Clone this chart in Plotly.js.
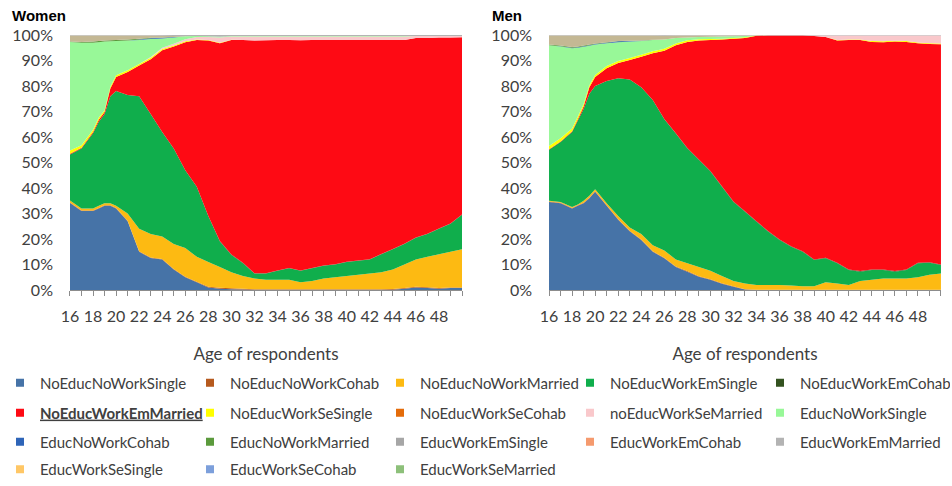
<!DOCTYPE html>
<html>
<head>
<meta charset="utf-8">
<script src="https://cdn.plot.ly/plotly-3.0.1.min.js"></script>
<style>html,body{margin:0;padding:0;background:#fff}#chart{width:952px;height:486px}</style>
</head>
<body>
<div id="chart"></div>
<script>
// Ages (x values) and x-axis tick labels
const ages = [16,17,18,18.5,19,19.5,20,21,22,23,24,25,26,27,28,29,30,31,32,33,34,35,36,37,38,39,40,41,42,43,44,45,46,47,48,49,50];
const ageTicks = [16,18,20,22,24,26,28,30,32,34,36,38,40,42,44,46,48];

// Series names (legend order = stacking order, bottom to top)
const seriesNames = ["NoEducNoWorkSingle","NoEducNoWorkCohab","NoEducNoWorkMarried","NoEducWorkEmSingle","NoEducWorkEmCohab",
  "NoEducWorkEmMarried","NoEducWorkSeSingle","NoEducWorkSeCohab","noEducWorkSeMarried","EducNoWorkSingle",
  "EducNoWorkCohab","EducNoWorkMarried","EducWorkEmSingle","EducWorkEmCohab","EducWorkEmMarried",
  "EducWorkSeSingle","EducWorkSeCohab","EducWorkSeMarried"];

// ---------- Women (shares, %) ----------
const w_NoEducNoWorkSingle  = [34,31,31,32,33,33,32,27,15,12.5,12,8,5,3,1,0.5,0.3,0.2,0.1,0.1,0.1,0.1,0.1,0.1,0.1,0.1,0.1,0.1,0.1,0.1,0.1,0.5,1,0.8,0.5,0.8,0.8];
const w_NoEducNoWorkCohab   = [0.2,0.2,0.2,0.2,0.2,0.2,0.2,0.2,0.2,0.2,0.2,0.2,0.2,0.2,0.3,0.4,0.4,0.3,0.2,0.2,0.2,0.2,0.2,0.2,0.2,0.2,0.2,0.2,0.2,0.2,0.3,0.3,0.3,0.3,0.3,0.2,0.2];
const w_NoEducNoWorkMarried = [0.8,0.8,0.8,0.8,0.8,0.8,0.8,2.8,8.8,9.3,8.8,9.8,11.3,9.8,9.7,8.1,6.3,5,4.2,3.7,3.7,3.7,2.7,3.2,4.2,4.7,5.2,5.7,6.2,6.7,7.6,9.2,10.7,11.9,13.2,14,15];
const w_NoEducWorkEmSingle  = [18,23.5,29.5,33,35,42,45,46.5,52,47,41,37.5,30.5,27.5,18,10,6.7,5,2,2.5,3.5,4.5,4.5,5,5,5,5.5,5.5,5.5,7,8,8,8.5,9,10,11,13.5];
const w_NoEducWorkEmCohab   = [0,0,0,0,0,0,0,0,0,0,0,0,0,0,0,0.2,0.2,0.2,0.1,0.1,0.1,0.1,0.1,0.1,0.1,0.1,0.1,0.1,0.1,0.1,0.1,0.1,0.1,0.1,0.1,0.1,0.1];
const w_NoEducWorkEmMarried = [0.3,0.3,0.5,0.8,0.8,3,5.5,9,12,21.5,32,40,50.2,57.5,68.8,77.6,84.1,87.3,91.2,91.3,90.4,89.4,90.3,89.4,88.4,87.9,86.9,86.4,85.9,83.9,81.9,79.9,78.2,76.7,74.9,72.9,69.5];
const w_NoEducWorkSeSingle  = [1.2,1,0.8,0.8,0.7,0.7,0.7,0.7,0.6,0.6,0.5,0.4,0.3,0.2,0.2,0.2,0.1,0,0,0,0,0,0,0,0,0,0,0,0,0,0,0,0,0,0,0,0];
const w_NoEducWorkSeCohab   = [0,0,0,0,0,0,0,0,0,0,0,0,0,0,0,0,0,0,0,0,0,0,0,0,0,0,0,0,0,0,0,0,0,0,0,0,0];
const w_noEducWorkSeMarried = [0,0,0,0,0,0,0,0,0,0.3,0.5,0.7,0.8,1,1.2,2,1.3,1.4,1.6,1.5,1.4,1.4,1.5,1.4,1.4,1.4,1.4,1.4,1.4,1.4,1.4,1.4,0.8,0.8,0.6,0.6,0.5];
const w_EducNoWorkSingle    = [42.5,40.2,34.2,29.6,26.9,17.8,13.4,11.6,9.4,7,3.6,2.4,1.2,0.4,0.3,0.3,0.2,0.2,0.2,0.2,0.2,0.2,0.2,0.2,0.2,0.2,0.2,0.2,0.2,0.2,0.2,0.2,0,0,0,0,0];
const w_EducNoWorkCohab     = [0,0,0,0,0,0,0,0,0.2,0.3,0.3,0.2,0,0,0,0,0,0,0,0,0,0,0,0,0,0,0,0,0,0,0,0,0,0,0,0,0];
const w_EducNoWorkMarried   = [0.2,0.3,0.4,0.4,0.4,0.4,0.4,0.4,0.3,0.2,0.1,0,0,0,0,0,0,0,0,0,0,0,0,0,0,0,0,0,0,0,0,0,0,0,0,0,0];
const w_EducWorkEmSingle    = [2.3,2.5,2.4,2.2,2,1.9,1.8,1.6,1.3,0.9,0.7,0.4,0.1,0,0,0,0,0,0,0,0,0,0,0,0,0,0,0,0,0,0,0,0,0,0,0,0];
const w_EducWorkEmCohab     = [0,0,0,0,0,0,0,0,0,0,0,0,0,0,0,0,0,0,0,0,0,0,0,0,0,0,0,0,0,0,0,0,0,0,0,0,0];
const w_EducWorkEmMarried   = [0.2,0.2,0.2,0.2,0.2,0.2,0.2,0.2,0.2,0.2,0.3,0.4,0.4,0.4,0.5,0.7,0.4,0.4,0.4,0.4,0.4,0.4,0.4,0.4,0.4,0.4,0.4,0.4,0.4,0.4,0.4,0.4,0.4,0.4,0.4,0.4,0.4];
const w_EducWorkSeSingle    = [0,0,0,0,0,0,0,0,0,0,0,0,0,0,0,0,0,0,0,0,0,0,0,0,0,0,0,0,0,0,0,0,0,0,0,0,0];
const w_EducWorkSeCohab     = [0,0,0,0,0,0,0,0,0,0,0,0,0,0,0,0,0,0,0,0,0,0,0,0,0,0,0,0,0,0,0,0,0,0,0,0,0];
const w_EducWorkSeMarried   = [0,0,0,0,0,0,0,0,0,0,0,0,0,0,0,0,0,0,0,0,0,0,0,0,0,0,0,0,0,0,0,0,0,0,0,0,0];

// ---------- Men (shares, %) ----------
const m_NoEducNoWorkSingle  = [34.5,34,32,33,34,36,38.5,33,27.5,23,19.6,15,12.4,9,7.2,5.2,4,2.4,1.3,0.2,0,0,0,0,0,0,0,0,0,0,0,0,0,0,0,0,0];
const m_NoEducNoWorkCohab   = [0.2,0.2,0.2,0.2,0.2,0.2,0.2,0.2,0.2,0.2,0.2,0.2,0.2,0.2,0.2,0.2,0.2,0.2,0.2,0.1,0.1,0.1,0.1,0.1,0.1,0.1,0.1,0.1,0.1,0.1,0.1,0.1,0.1,0.1,0.1,0.1,0.1];
const m_NoEducNoWorkMarried = [0.3,0.3,0.3,0.3,0.8,0.8,0.8,0.8,1.3,1.3,2.2,2.3,2.9,2.8,3.1,3.6,3.3,2.9,2,2.2,1.9,1.9,1.9,1.7,1.4,1.4,2.9,2.4,1.9,3.4,3.9,4.4,4.4,4.4,4.9,5.9,6.4];
const m_NoEducWorkEmSingle  = [20,23.5,29.5,33,36,40,40.5,48,54,58,57.5,57,51.5,49.4,45,42,39,35,31,28.2,24.8,20.9,17.6,15.2,13.5,10.3,9.4,8,5.8,3.7,3.8,3.3,2.7,3.3,5.5,4.7,3.3];
const m_NoEducWorkEmCohab   = [0,0,0,0,0,0,0,0,0,0,0,0,0.1,0.1,0.2,0.2,0.2,0.2,0.2,0.2,0.2,0.2,0.2,0.2,0.2,0.2,0.2,0.2,0.2,0.2,0.2,0.2,0.2,0.2,0.2,0.2,0.2];
const m_NoEducWorkEmMarried = [0.2,0.2,0.3,0.5,1,2.5,3.5,5,6,7.7,12,18.3,26.7,34.5,41.6,46.6,51.3,57.5,63.8,67.9,72.7,76.7,80,82.6,84.6,87.6,86.6,87.1,90,90.6,89.3,89.2,90,89.3,86.1,85.6,86.4];
const m_NoEducWorkSeSingle  = [1.3,1.3,1,1,0.9,0.8,0.8,0.8,0.8,0.8,0.8,0.8,0.8,0.7,0.6,0.5,0.4,0.3,0.3,0.3,0.1,0,0,0,0,0,0,0.2,0.2,0.2,0.3,0.3,0.3,0.3,0.3,0.3,0.3];
const m_NoEducWorkSeCohab   = [0,0,0,0,0,0,0,0,0,0,0,0,0,0,0,0,0,0,0,0,0,0,0,0,0,0,0,0,0,0,0,0,0,0,0,0,0];
const m_noEducWorkSeMarried = [0,0,0,0,0,0,0,0,0,0,0,0,0,0,0,0,0,0,0,0,0,0,0,0,0,0.2,0.6,1.8,1.6,1.6,2.2,2.3,2.1,2.2,2.7,3,3.1];
const m_EducNoWorkSingle    = [39.5,36,31.5,27,22.5,15.5,12,9,7.4,6.4,5.3,4.4,3.6,2.1,1.1,0.9,0.9,0.9,0.7,0.5,0,0,0,0,0,0,0,0,0,0,0,0,0,0,0,0,0];
const m_EducNoWorkCohab     = [0,0.1,0.2,0.2,0.2,0.2,0.2,0.2,0.3,0.2,0.1,0,0,0,0,0,0,0,0,0,0,0,0,0,0,0,0,0,0,0,0,0,0,0,0,0,0];
const m_EducNoWorkMarried   = [0.3,0.3,0.3,0.3,0.3,0.3,0.2,0.2,0.1,0.1,0.1,0.1,0,0,0,0,0,0,0,0,0,0,0,0,0,0,0,0,0,0,0,0,0,0,0,0,0];
const m_EducWorkEmSingle    = [3.5,3.9,4.5,4.3,3.9,3.5,3.1,2.6,2.2,2.1,2,1.7,1.5,1,0.8,0.6,0.5,0.4,0.3,0.2,0,0,0,0,0,0,0,0,0,0,0,0,0,0,0,0,0];
const m_EducWorkEmCohab     = [0,0,0,0,0,0,0,0,0,0,0,0,0,0,0,0,0,0,0,0,0,0,0,0,0,0,0,0,0,0,0,0,0,0,0,0,0];
const m_EducWorkEmMarried   = [0.2,0.2,0.2,0.2,0.2,0.2,0.2,0.2,0.2,0.2,0.2,0.2,0.3,0.2,0.2,0.2,0.2,0.2,0.2,0.2,0.2,0.2,0.2,0.2,0.2,0.2,0.2,0.2,0.2,0.2,0.2,0.2,0.2,0.2,0.2,0.2,0.2];
const m_EducWorkSeSingle    = [0,0,0,0,0,0,0,0,0,0,0,0,0,0,0,0,0,0,0,0,0,0,0,0,0,0,0,0,0,0,0,0,0,0,0,0,0];
const m_EducWorkSeCohab     = [0,0,0,0,0,0,0,0,0,0,0,0,0,0,0,0,0,0,0,0,0,0,0,0,0,0,0,0,0,0,0,0,0,0,0,0,0];
const m_EducWorkSeMarried   = [0,0,0,0,0,0,0,0,0,0,0,0,0,0,0,0,0,0,0,0,0,0,0,0,0,0,0,0,0,0,0,0,0,0,0,0,0];

const womenSeries = [w_NoEducNoWorkSingle,w_NoEducNoWorkCohab,w_NoEducNoWorkMarried,w_NoEducWorkEmSingle,w_NoEducWorkEmCohab,
  w_NoEducWorkEmMarried,w_NoEducWorkSeSingle,w_NoEducWorkSeCohab,w_noEducWorkSeMarried,w_EducNoWorkSingle,
  w_EducNoWorkCohab,w_EducNoWorkMarried,w_EducWorkEmSingle,w_EducWorkEmCohab,w_EducWorkEmMarried,
  w_EducWorkSeSingle,w_EducWorkSeCohab,w_EducWorkSeMarried];
const menSeries = [m_NoEducNoWorkSingle,m_NoEducNoWorkCohab,m_NoEducNoWorkMarried,m_NoEducWorkEmSingle,m_NoEducWorkEmCohab,
  m_NoEducWorkEmMarried,m_NoEducWorkSeSingle,m_NoEducWorkSeCohab,m_noEducWorkSeMarried,m_EducNoWorkSingle,
  m_EducNoWorkCohab,m_EducNoWorkMarried,m_EducWorkEmSingle,m_EducWorkEmCohab,m_EducWorkEmMarried,
  m_EducWorkSeSingle,m_EducWorkSeCohab,m_EducWorkSeMarried];

// Colours
const fillColors = ["#4673A7","#B65A1E","#FDBA12","#10AE4C","#33521F","#FE0A14","#FFFF00","#E46C0A","#F9C8CB","#98F898",
  "#2E64B8","#5B9A3C","#C4B894","#F59A6E","#B3B3B3","#FFC766","#7C9FDB","#8DC07A"];
const legendColors = ["#4673A7","#B65A1E","#FDBA12","#10AE4C","#33521F","#FE0A14","#FFFF00","#E46C0A","#F9C8CB","#98F898",
  "#2E64B8","#5B9A3C","#A6A6A6","#F59A6E","#B3B3B3","#FFC766","#7C9FDB","#8DC07A"];

const traces = [];
function addStack(series, xa, ya, group) {
  series.forEach((vals, i) => {
    const t = {type:'scatter', x:ages, y:vals, xaxis:xa, yaxis:ya, stackgroup:group, mode:'none',
      fillcolor:fillColors[i], line:{width:0}, name:seriesNames[i], showlegend:false, hoverinfo:'skip'};
    if (i === 0) t.groupnorm = 'percent';
    traces.push(t);
  });
}
addStack(womenSeries, 'x', 'y', 'women');
addStack(menSeries, 'x2', 'y2', 'men');

const legendKeys = ['legend','legend2','legend3','legend4'];
seriesNames.forEach((nm, i) => {
  const label = (i === 5) ? '<span style="font-weight:bold;text-decoration:underline">' + nm + '</span>' : nm;
  traces.push({type:'scatter', x:[null], y:[null], xaxis:'x', yaxis:'y', mode:'markers',
    marker:{symbol:'square', size:8, color:legendColors[i]}, name:label,
    legend:legendKeys[Math.floor(i/5)], showlegend:true, hoverinfo:'skip'});
});

const tickFont = {family:'Lato, sans-serif', size:16, color:'#404040'};
function xAxis(domain, anchor) {
  return {domain:domain, anchor:anchor, range:[16,50], tickmode:'array', tickvals:ageTicks, ticktext:ageTicks.map(String),
    ticks:'outside', ticklen:5, tickcolor:'#8c8c8c', showline:true, linecolor:'#8c8c8c', linewidth:1,
    showgrid:false, zeroline:false, tickfont:tickFont, ticklabelstandoff:7,
    minor:{tickmode:'linear', tick0:16, dtick:1, ticks:'outside', ticklen:5, tickcolor:'#8c8c8c', showgrid:false},
    title:{text:'Age of respondents', font:{family:'Lato, sans-serif', size:17, color:'#404040'}, standoff:23},
    fixedrange:true};
}
function yAxis(anchor) {
  return {domain:[0.4033,0.928], anchor:anchor, range:[0,100], tickmode:'linear', tick0:0, dtick:10, ticksuffix:'%',
    showgrid:false, zeroline:false, showline:false, ticks:'', tickfont:tickFont, ticklabelstandoff:16, fixedrange:true};
}
function legendAt(y, anchor) {
  return {orientation:'h', x:0, xanchor:'left', y:y, yanchor:anchor,
    entrywidth:145, entrywidthmode:'pixels',
    font:{family:'Lato, sans-serif', size:15, color:'#404040'}, bgcolor:'rgba(0,0,0,0)', traceorder:'normal',
    itemclick:false, itemdoubleclick:false};
}

const layout = {
  width:952, height:486, margin:{l:0,r:0,t:0,b:0}, paper_bgcolor:'#ffffff', plot_bgcolor:'#ffffff',
  font:{family:'Lato, sans-serif', color:'#404040'},
  xaxis:xAxis([0.0735,0.4853],'y'), yaxis:yAxis('x'),
  xaxis2:xAxis([0.5767,0.9884],'y2'), yaxis2:yAxis('x2'),
  legend:legendAt(0.2119,'middle'), legend2:legendAt(0.1502,'middle'), legend3:legendAt(0.0905,'middle'), legend4:legendAt(0,'bottom'),
  annotations:[
    {text:'<b>Women</b>', xref:'paper', yref:'paper', x:10/952, y:0.969, xanchor:'left', yanchor:'middle', showarrow:false,
     font:{family:'Liberation Sans, Arial, sans-serif', size:15, color:'#000'}},
    {text:'<b>Men</b>', xref:'paper', yref:'paper', x:490/952, y:0.969, xanchor:'left', yanchor:'middle', showarrow:false,
     font:{family:'Liberation Sans, Arial, sans-serif', size:15, color:'#000'}}
  ],
  hovermode:false
};

Plotly.newPlot('chart', traces, layout, {displayModeBar:false, staticPlot:true});
</script>
</body>
</html>
